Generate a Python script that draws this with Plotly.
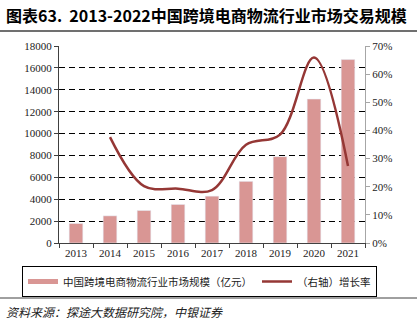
import plotly.graph_objects as go

years = ["2013", "2014", "2015", "2016", "2017", "2018", "2019", "2020", "2021"]
market_size = [1780, 2480, 2970, 3520, 4280, 5630, 7890, 13150, 16760]
growth_years = ["2014", "2015", "2016", "2017", "2018", "2019", "2020", "2021"]
growth_rate = [37.6, 20.2, 19.3, 18.8, 34.9, 38.5, 65.9, 27.4]

bar_color = "#D99694"
line_color = "#953735"
serif = "Liberation Serif, Times New Roman, serif"
cjk = "Noto Sans CJK SC, Noto Sans, sans-serif"

W, H = 417, 327
L, R, T, B = 59, 52, 46, 84
pw = W - L - R
ph = H - T - B

def py(ypix):
    return (H - ypix - B) / ph

def px(xpix):
    return (xpix - L) / pw

fig = go.Figure()
fig.add_trace(go.Bar(x=years, y=market_size, marker_color=bar_color, width=0.4,
                     showlegend=False, yaxis="y"))
fig.add_trace(go.Scatter(x=growth_years, y=growth_rate, mode="lines", line=dict(color=line_color, width=2.5, shape="spline", smoothing=1.0),
                         showlegend=False, yaxis="y2"))
# legend entries
fig.add_trace(go.Scatter(x=[None], y=[None], mode="lines", line=dict(color=bar_color, width=5),
                         name="中国跨境电商物流行业市场规模（亿元）"))
fig.add_trace(go.Scatter(x=[None], y=[None], mode="lines", line=dict(color=line_color, width=2.5),
                         name="（右轴）增长率", yaxis="y2"))

fig.update_layout(
    width=W, height=H,
    margin=dict(l=L, r=R, t=T, b=B, autoexpand=False),
    paper_bgcolor="white", plot_bgcolor="white",
    bargap=0.6,
    xaxis=dict(type="category", showgrid=False, showline=True, linecolor="#404040", linewidth=1,
               ticks="outside", tickson="boundaries", ticklen=4, tickcolor="#404040",
               tickfont=dict(family=serif, size=11, color="#222")),
    yaxis=dict(range=[0, 18000], dtick=2000, tickformat="d", showgrid=True, gridcolor="#000000", gridwidth=1.2,
               griddash="6px,4px", showline=True, linecolor="#404040", linewidth=1,
               ticks="outside", ticklen=4, tickcolor="#404040", zeroline=False,
               tickfont=dict(family=serif, size=11, color="#222")),
    yaxis2=dict(range=[0, 70], dtick=10, overlaying="y", side="right", showgrid=False,
                showline=True, linecolor="#A6A6A6", linewidth=1, ticks="outside", ticklen=4,
                tickcolor="#A6A6A6", ticksuffix="%", zeroline=False,
                tickfont=dict(family=serif, size=11, color="#222")),
    legend=dict(orientation="h", x=px(22), xanchor="left",
                y=py(266), yanchor="top",
                bordercolor="#000000", borderwidth=1, font=dict(family=cjk, size=10.5, color="#222"),
                bgcolor="white", tracegroupgap=0),
    annotations=[
        dict(text="<b>图表63.  2013-2022中国跨境电商物流行业市场交易规模</b>", xref="paper", yref="paper",
             x=px(4), y=py(15), xanchor="left", yanchor="middle", showarrow=False,
             font=dict(family=cjk, size=16, color="#000")),
        dict(text="资料来源：探途大数据研究院，中银证券", xref="paper", yref="paper",
             x=px(4), y=py(311), xanchor="left", yanchor="middle", showarrow=False,
             font=dict(family=cjk, size=12, color="#222", style="italic")),
    ],
    shapes=[
        dict(type="line", xref="paper", yref="paper", x0=px(0), x1=px(W),
             y0=py(31), y1=py(31), line=dict(color="#404040", width=1.5)),
        dict(type="line", xref="paper", yref="paper", x0=px(0), x1=px(W),
             y0=py(298), y1=py(298), line=dict(color="#404040", width=1)),
    ],
)

fig.write_html("out.html")
